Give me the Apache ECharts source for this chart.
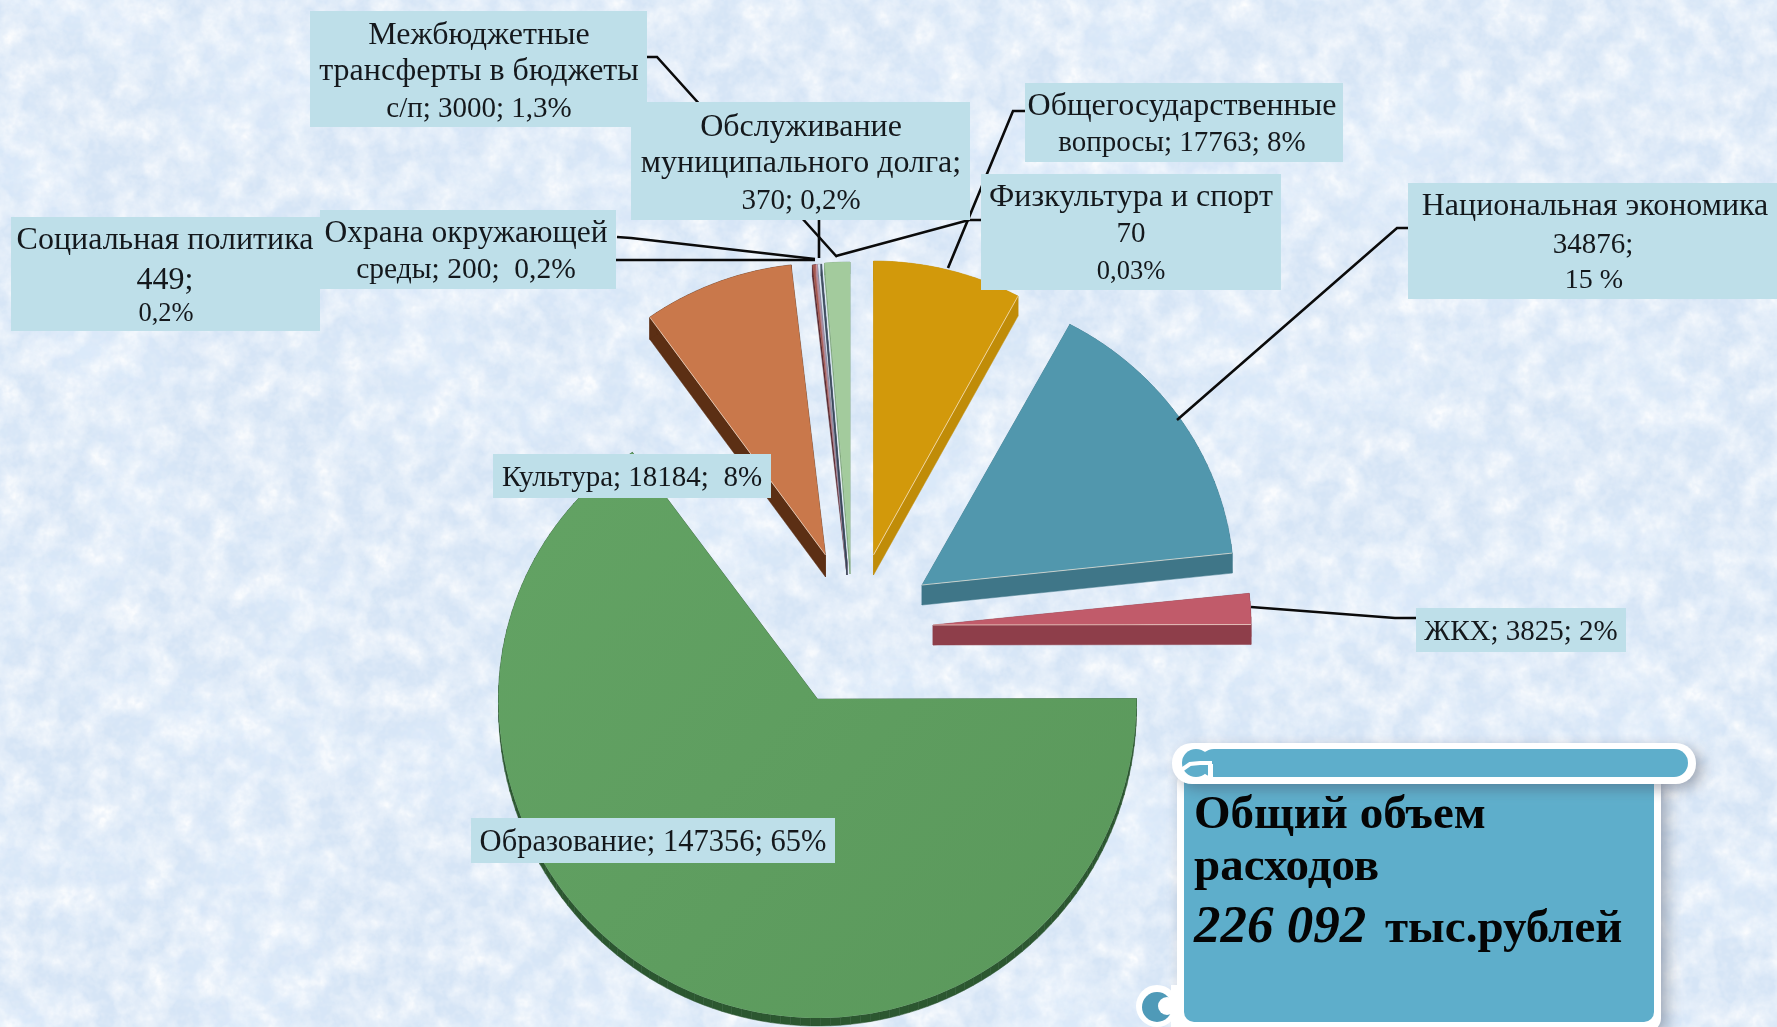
<!DOCTYPE html>
<html lang="ru"><head><meta charset="utf-8"><title>Расходы</title>
<script src="https://cdn.jsdelivr.net/npm/echarts@6/dist/echarts.min.js"></script>
<style>
html,body{margin:0;padding:0;width:1777px;height:1027px;overflow:hidden;background:#d6e5f6}
#bg{position:absolute;left:0;top:0}
#c{position:absolute;left:0;top:0;width:1777px;height:1027px}
</style></head><body>
<svg id="bg" xmlns="http://www.w3.org/2000/svg" width="1777" height="1027">
<filter id="a" x="0" y="0" width="100%" height="100%"><feTurbulence type="fractalNoise" baseFrequency=".006 .009" numOctaves="4" seed="7"/><feColorMatrix values="0 0 0 0 .72  0 0 0 0 .83  0 0 0 0 .96  0 0 0 2.2 -.95"/></filter>
<filter id="b" x="0" y="0" width="100%" height="100%"><feTurbulence type="fractalNoise" baseFrequency=".035" numOctaves="5" seed="3"/><feColorMatrix values="0 0 0 0 1  0 0 0 0 1  0 0 0 0 1  0 0 0 1.7 -.6"/></filter>
<filter id="d" x="0" y="0" width="100%" height="100%"><feTurbulence type="fractalNoise" baseFrequency=".14" numOctaves="2" seed="11"/><feColorMatrix values="0 0 0 0 .76  0 0 0 0 .84  0 0 0 0 .94  0 0 0 1.6 -.65"/></filter>
<rect width="1777" height="1027" filter="url(#a)"/><rect width="1777" height="1027" filter="url(#b)"/><rect width="1777" height="1027" filter="url(#d)"/>
</svg>
<div id="c"></div>
<script>
// ---- data ----
const names = ['Общегосударственные вопросы','Национальная экономика','ЖКХ','Образование','Культура','Социальная политика','Охрана окружающей среды','Обслуживание муниципального долга','Физкультура и спорт','Межбюджетные трансферты в бюджеты с/п'];
const values = [17763,34876,3825,147356,18184,449,200,370,70,3000];
const percents = ['8%','15 %','2%','65%','8%','0,2%','0,2%','0,2%','0,03%','1,3%'];
const totalLabel = '226 092';

// ---- styling and layout ----
const topColors  = ['#d2990b','#5197ad','#c15b6a','#61a062','#c9784b','#a5584f','#e7a0a8','#d8e6f3','#54657a','#a3cb9d'];
const sideColors = ['#c08c08','#3f7688','#8e3e4a','#2c5730','#5c2f14','#5a2a30','#b58a98','#8d8fa6','#3a4658','#7fa67a'];
const apexes = [[873.5,555],[922,585],[933,625],[817.5,699],[825.5,555],[847,563],[847,563],[847,563],[847,563],[850,562]];
const radiiX = [305,312,318,319,303,305,305,305,305,305];
const radiiUp = [294,296,294,303,292,300,300,300,300,300];
const radiiDown = [294,294,294,319,292,300,300,300,300,300];
const depths = [20,20,20,8,22,12,12,12,12,12];
const rimEdges = ['end','end','end','','start','','','','',''];
const leaders = [
 [[1025,111],[1013,111],[948,268]],
 [[1408,228],[1397,228],[1177,420]],
 [[1416,618],[1395,618],[1251,607]],
 [],[],
 [[320,260],[815,260]],
 [[617,237],[631,238],[815,259]],
 [[819,220],[819,258]],
 [[981,220],[969,220],[836,256]],
 [[647,57],[657,57],[837,257]]
];
const boxes = [[1025,83,318,79],[1408,183,369,116],[1416,608,210,44],[471,818,364,45],[493,454,278,44],[11,217,309,114],[320,210,296,79],[631,102,339,118],[981,174,300,116],[310,11,337,116]];
const fsWord = 32, fsNum = 29, fsSmall = 26.5;
const labelLines = [
 [['Общегосударственные',1182,107,fsWord],[`вопросы; ${values[0]}; ${percents[0]}`,1182,143,fsNum]],
 [['Национальная экономика',1595,207,fsWord],[`${values[1]};`,1593,245,fsNum],[percents[1],1594,281,28]],
 [[`ЖКХ; ${values[2]}; ${percents[2]}`,1521,632,fsNum]],
 [[`Образование; ${values[3]}; ${percents[3]}`,653,843,30.5]],
 [[`Культура; ${values[4]};  ${percents[4]}`,632,478,fsNum]],
 [['Социальная политика',165,241,fsWord],[`${values[5]};`,165,281,32],[percents[5],166,314,fsSmall]],
 [['Охрана окружающей',466,234,31.5],[`среды; ${values[6]};  ${percents[6]}`,466,270,29.5]],
 [['Обслуживание',801,128,fsWord],['муниципального долга;',801,164,fsWord],[`${values[7]}; ${percents[7]}`,801,201,fsNum]],
 [['Физкультура и спорт',1131,198,fsWord],[`${values[8]}`,1131,234,fsNum],[percents[8],1131,272,fsSmall]],
 [['Межбюджетные',479,36,fsWord],['трансферты в бюджеты',479,72,fsWord],[`с/п; ${values[9]}; ${percents[9]}`,479,109,fsNum]]
];
const serif = '"Liberation Serif", serif';
const total = values.reduce((a, b) => a + b, 0);
let running = 0;
const wedges = values.map((v, i) => { const s = running; running += v; return {value:[1, s, running, i], name:names[i]}; });

const POLAR_R = 100, POLAR_C = [888,513];
function renderSlice(params, api){
  const i = api.value(3), a0 = api.value(1), a1 = api.value(2);
  const [ax, ay] = apexes[i];
  const pt = (v) => {
    const p = api.coord([1, v]);
    const ux = (p[0]-POLAR_C[0])/POLAR_R, uy = (p[1]-POLAR_C[1])/POLAR_R;
    return [ax + ux*radiiX[i], ay + uy*(uy<0 ? radiiUp[i] : radiiDown[i])];
  };
  const n = Math.max(2, Math.ceil((a1-a0)/total*200));
  const outline = [[ax,ay]];
  for (let k=0;k<=n;k++) outline.push(pt(a0+(a1-a0)*k/n));
  const d = depths[i], kids = [];
  for (let k=0;k<outline.length;k++){
    const p = outline[k], q = outline[(k+1)%outline.length];
    kids.push({type:'polygon',shape:{points:[p,q,[q[0],q[1]+d],[p[0],p[1]+d]]},style:{fill:sideColors[i],stroke:sideColors[i],lineWidth:.5}});
  }
  const fill = i===3 ? new echarts.graphic.LinearGradient(0,0,1,1,[{offset:0,color:'#63a364'},{offset:1,color:'#5a985b'}]) : topColors[i];
  kids.push({type:'polygon',shape:{points:outline},style:{fill}});
  if (rimEdges[i]){
    const e = rimEdges[i]==='end' ? outline[outline.length-1] : outline[1];
    kids.push({type:'line',shape:{x1:ax,y1:ay,x2:e[0],y2:e[1]},style:{stroke:'rgba(255,240,225,.65)',lineWidth:1}});
  }
  return {type:'group',children:kids};
}

const g = [];
leaders.forEach(l => { if (l.length) g.push({type:'polyline',z:3,shape:{points:l},style:{stroke:'#0b0b0b',lineWidth:2.6,fill:null}}); });
boxes.forEach((b,i) => g.push({type:'rect',z:[4,5,4,4,4,4,5,4,5,4][i],shape:{x:b[0],y:b[1],width:b[2],height:b[3]},style:{fill:'#bedfe9'}}));
labelLines.forEach(ls => ls.forEach(t => g.push({type:'text',z:6,style:{text:t[0],x:t[1],y:t[2],textAlign:'center',textVerticalAlign:'middle',font:`${t[3]}px ${serif}`,fill:'#14181c'}})));

// scroll panel holding the total
const blue = '#5eaecb';
g.push({type:'rect',z:7,shape:{x:1177,y:770,width:484,height:262,r:14},style:{fill:'#fff',shadowBlur:16,shadowColor:'rgba(70,80,100,.45)',shadowOffsetX:6,shadowOffsetY:5}});
g.push({type:'rect',z:7,shape:{x:1184,y:772,width:470,height:250,r:10},style:{fill:blue}});
g.push({type:'rect',z:7,shape:{x:1172,y:743,width:524,height:41,r:20},style:{fill:'#fff',shadowBlur:14,shadowColor:'rgba(70,80,100,.45)',shadowOffsetX:6,shadowOffsetY:5}});
g.push({type:'rect',z:7,shape:{x:1200,y:749,width:488,height:28,r:14},style:{fill:blue}});
g.push({type:'circle',z:7,shape:{cx:1196,cy:763,r:14},style:{fill:blue}});
g.push({type:'polyline',z:7,smooth:.5,shape:{points:[[1180,771],[1190,764],[1200,763],[1212,763]]},style:{stroke:'#fff',lineWidth:4,fill:null}});
g.push({type:'rect',z:7,shape:{x:1208,y:764,width:5,height:18},style:{fill:'#fff'}});
g.push({type:'circle',z:7,shape:{cx:1157,cy:1006,r:21},style:{fill:'#fff'}});
g.push({type:'circle',z:7,shape:{cx:1157,cy:1007,r:15},style:{fill:'#4f9ab8'}});
g.push({type:'circle',z:7,shape:{cx:1167,cy:1006,r:9},style:{fill:'#fff'}});
g.push({type:'rect',z:7,shape:{x:1171,y:985,width:13,height:42},style:{fill:'#fff'}});
const panelText = (txt,x,y,font) => g.push({type:'text',z:8,style:{text:txt,x,y,textVerticalAlign:'middle',font,fill:'#050505'}});
panelText('Общий объем',1194,816,`bold 47px ${serif}`);
panelText('расходов',1194,868,`bold 47px ${serif}`);
panelText(totalLabel,1194,928,`italic bold 53px ${serif}`);
panelText('тыс.рублей',1385,930,`bold 47px ${serif}`);

const chart = echarts.init(document.getElementById('c'), null, {renderer:'canvas'});
chart.setOption({
  animation:false,
  backgroundColor:'transparent',
  polar:{center:POLAR_C,radius:POLAR_R},
  angleAxis:{type:'value',min:0,max:total,startAngle:90,clockwise:true,show:false},
  radiusAxis:{type:'value',min:0,max:1,show:false},
  series:[{type:'custom',coordinateSystem:'polar',renderItem:renderSlice,encode:{radius:0,angle:[1,2]},data:wedges,z:2,silent:true}],
  graphic:{elements:g}
});
</script></body></html>
